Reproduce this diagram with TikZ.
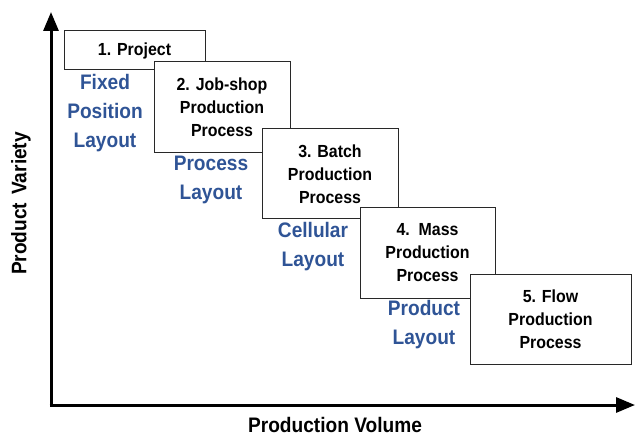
\documentclass[tikz,border=0pt]{standalone}
\usepackage{fontspec}
\setmainfont{Liberation Sans}[FakeStretch=0.91]
\usetikzlibrary{arrows.meta}
\definecolor{layoutblue}{RGB}{47,84,150}
\definecolor{boxline}{RGB}{40,40,40}
\tikzset{
  procbox/.style={draw=boxline, line width=1bp, fill=white, align=center,
    inner sep=0pt, font=\bfseries\fontsize{17.5bp}{23bp}\selectfont},
  layoutlbl/.style={text=layoutblue, align=center, inner sep=0pt,
    font=\bfseries\fontsize{21bp}{29bp}\selectfont},
  axislbl/.style={inner sep=0pt, font=\bfseries\fontsize{21bp}{24bp}\selectfont},
  axisline/.style={line width=3bp, -{Triangle[length=19bp,width=15bp]}}
}
\begin{document}
\begin{tikzpicture}[x=1bp,y=-1bp]
\useasboundingbox (0,0) rectangle (635,437);
% axes
\coordinate (O) at (51,405);
\coordinate (Ytop) at (51,12);
\coordinate (Xend) at (635,405);
\draw[axisline] ([yshift=-1.5bp]O) -- (Ytop);
\draw[axisline] ([xshift=-1.5bp]O) -- (Xend);
% boxes
\node[procbox, minimum width=141bp, minimum height=39bp] (b1) at (134.5,50.5) {1. Project};
\node[procbox, minimum width=136bp, minimum height=91bp] (b2) at (222,107.5) {2. Job-shop\\Production\\Process};
\node[procbox, minimum width=136bp, minimum height=90bp] (b3) at (330,174) {3. Batch\\Production\\Process};
\node[procbox, minimum width=135bp, minimum height=90bp] (b4) at (427.5,253) {4.\ \ Mass\\Production\\Process};
\node[procbox, minimum width=161bp, minimum height=89bp] (b5) at (550.5,319.5) {5. Flow\\Production\\Process};
% layout labels
\node[layoutlbl] (l1) at (105,113) {Fixed\\Position\\Layout};
\node[layoutlbl] (l2) at (211,179.5) {Process\\Layout};
\node[layoutlbl] (l3) at (313,247) {Cellular\\Layout};
\node[layoutlbl] (l4) at (424,324.5) {Product\\Layout};
% axis labels
\node[axislbl, rotate=90] (yl) at (21,203.5) {Product\hspace{8bp}Variety};
\node[axislbl] (xl) at (335,425) {Production Volume};
\end{tikzpicture}
\end{document}
